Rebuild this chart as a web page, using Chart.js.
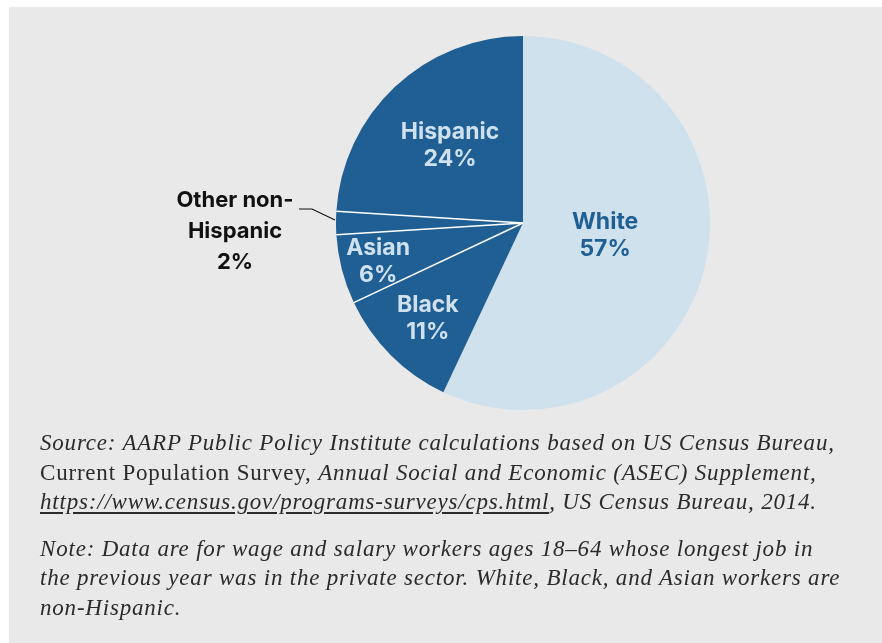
<!DOCTYPE html>
<html>
<head>
<meta charset="utf-8">
<script src="https://cdn.jsdelivr.net/npm/chart.js@4.4.1/dist/chart.umd.min.js"></script>
<style>
  html, body { margin: 0; padding: 0; background: #fff; }
  body { width: 882px; height: 643px; position: relative; overflow: hidden; }
  #panel { position: absolute; left: 9px; top: 7px; width: 873px; height: 636px; background: #e9e9e9; }
  #chartBox { position: absolute; left: 0; top: 0; width: 882px; height: 446px; }
  #notes {
    position: absolute; left: 40px; top: 428px;
    font-family: "Liberation Serif", serif; font-size: 23px; line-height: 29.5px;
    letter-spacing: 0.8px; color: #2b2b2b; white-space: nowrap;
  }
  #notes p { margin: 0 0 17px 0; }
  #notes i { font-style: italic; }
  #notes u { text-underline-offset: 3px; }
</style>
</head>
<body>
<div id="panel"></div>
<div id="chartBox"><canvas id="shareChart" width="882" height="446"></canvas></div>
<div id="notes">
  <p><i>Source: AARP Public Policy Institute calculations based on US Census Bureau,</i><br>Current Population Survey, <i>Annual Social and Economic (ASEC) Supplement,</i><br><i><u>https://www.census.gov/programs-surveys/cps.html</u>, US Census Bureau, 2014.</i></p>
  <p><i>Note: Data are for wage and salary workers ages 18–64 whose longest job in<br>the previous year was in the private sector. White, Black, and Asian workers are<br>non-Hispanic.</i></p>
</div>
<script>
// workers by race / ethnicity, clockwise from the top
const groups = ['White', 'Black', 'Asian', 'Other non-Hispanic', 'Hispanic'];
const shares = [57, 11, 6, 2, 24];
const labelLines = [['White'], ['Black'], ['Asian'], ['Other non-', 'Hispanic'], ['Hispanic']];

const DARK = '#1f5f93';
const LIGHT = '#cfe1ec';
const sliceColors = [LIGHT, DARK, DARK, DARK, DARK];

// label placement: fraction of radius along the slice middle, plus a nudge
const labelSpots = [
  { frac: 0.45, dx: 0, dy: -6, color: DARK },
  { frac: 0.72, dx: 0, dy: 0, color: '#cfe1ee' },
  { frac: 0.80, dx: 0, dy: 1, color: '#cfe1ee' },
  { outside: true, color: '#111' },
  { frac: 0.57, dx: 0, dy: 0, color: '#cfe1ee' }
];

// white separators only between the dark slices
const separators = {
  id: 'separators',
  afterDatasetsDraw(chart) {
    const ctx = chart.ctx;
    const arcs = chart.getDatasetMeta(0).data;
    ctx.save();
    ctx.strokeStyle = '#ffffff';
    ctx.lineWidth = 1.5;
    for (let i = 2; i < arcs.length; i++) {
      const a = arcs[i].getProps(['x', 'y', 'startAngle', 'outerRadius'], true);
      ctx.beginPath();
      ctx.moveTo(a.x, a.y);
      ctx.lineTo(a.x + Math.cos(a.startAngle) * a.outerRadius, a.y + Math.sin(a.startAngle) * a.outerRadius);
      ctx.stroke();
    }
    ctx.restore();
  }
};

const sliceLabels = {
  id: 'sliceLabels',
  afterDatasetsDraw(chart) {
    const ctx = chart.ctx;
    const arcs = chart.getDatasetMeta(0).data;
    ctx.save();
    ctx.textAlign = 'center';
    ctx.textBaseline = 'middle';
    arcs.forEach((arc, i) => {
      const a = arc.getProps(['x', 'y', 'startAngle', 'endAngle', 'outerRadius'], true);
      const mid = (a.startAngle + a.endAngle) / 2;
      const spot = labelSpots[i];
      const lines = labelLines[i].concat([shares[i] + '%']);
      ctx.fillStyle = spot.color;
      if (spot.outside) {
        const ex = a.x + Math.cos(mid) * a.outerRadius;
        const ey = a.y + Math.sin(mid) * a.outerRadius;
        // leader line
        ctx.strokeStyle = '#111';
        ctx.lineWidth = 1.2;
        ctx.beginPath();
        ctx.moveTo(ex - 1, ey - 3);
        ctx.lineTo(ex - 24, ey - 14);
        ctx.lineTo(ex - 37, ey - 14);
        ctx.stroke();
        ctx.font = 'bold 22px Inter';
        const cx = ex - 101, cy = ey + 8;
        const step = 31;
        lines.forEach((t, k) => ctx.fillText(t, cx, cy + (k - (lines.length - 1) / 2) * step));
      } else {
        ctx.font = 'bold 23px Inter';
        const cx = a.x + Math.cos(mid) * a.outerRadius * spot.frac + spot.dx;
        const cy = a.y + Math.sin(mid) * a.outerRadius * spot.frac + spot.dy;
        const step = 27;
        lines.forEach((t, k) => ctx.fillText(t, cx, cy + (k - (lines.length - 1) / 2) * step));
      }
    });
    ctx.restore();
  }
};

new Chart(document.getElementById('shareChart').getContext('2d'), {
  type: 'pie',
  data: {
    labels: groups,
    datasets: [{
      data: shares,
      backgroundColor: sliceColors,
      borderWidth: 0,
      radius: 187
    }]
  },
  options: {
    responsive: false,
    animation: false,
    layout: { padding: { left: 164 } },
    plugins: {
      legend: { display: false },
      tooltip: { enabled: false }
    }
  },
  plugins: [separators, sliceLabels]
});
</script>
</body>
</html>
